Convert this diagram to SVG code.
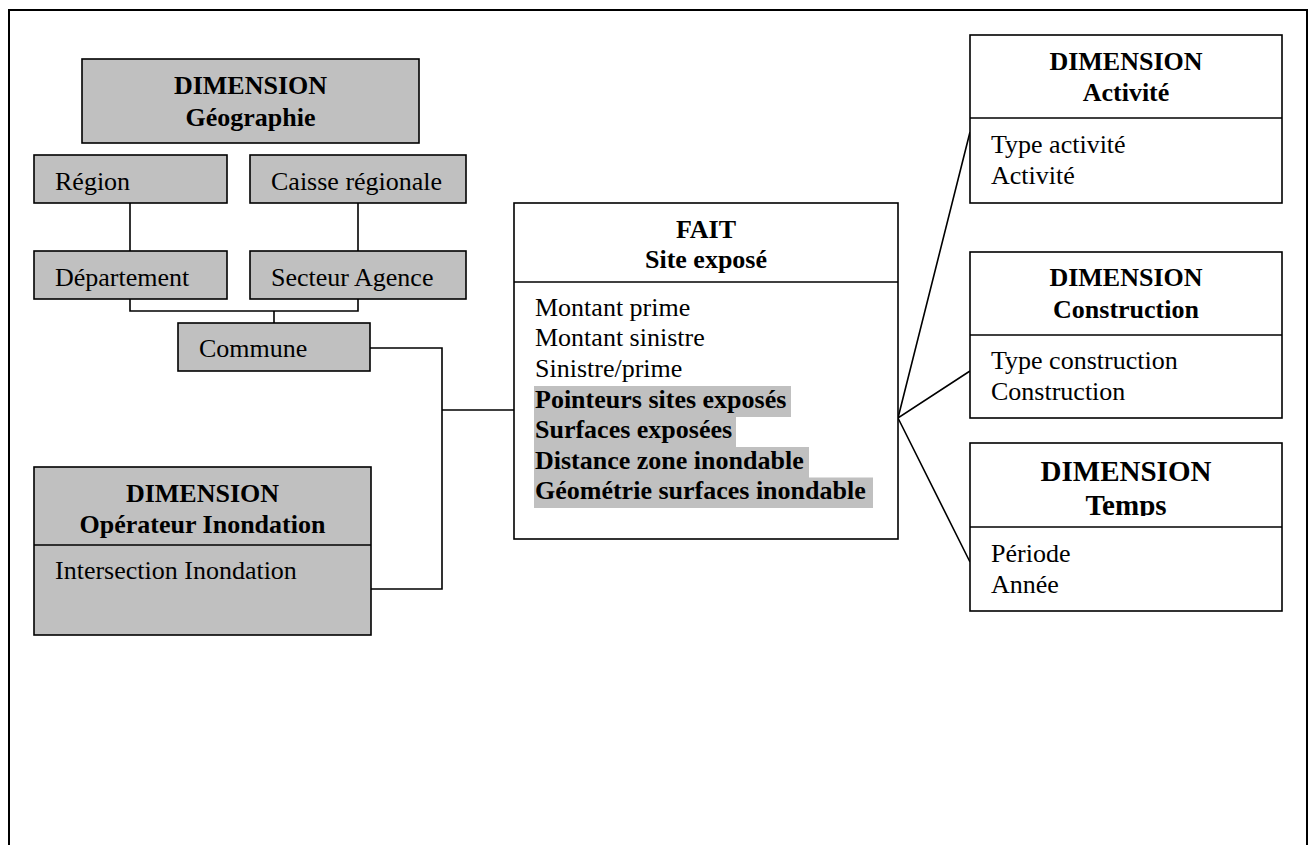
<svg xmlns="http://www.w3.org/2000/svg" width="1312" height="845" viewBox="0 0 1312 845">
<defs>
<style>
.box{stroke:#000;stroke-width:1.6}
.g{fill:#C0C0C0}
.w{fill:#fff}
.t{font-family:"Liberation Serif","Times New Roman",serif;font-size:26px;fill:#000}
.b{font-weight:bold}
.c{text-anchor:middle}
.ln{fill:none;stroke:#000;stroke-width:1.6}
.hl{fill:#C0C0C0}
</style>
<clipPath id="tclip"><rect x="970" y="443" width="312" height="73"/></clipPath>
</defs>
<rect x="0" y="0" width="1312" height="845" fill="#fff"/>
<path d="M9,846 V10 H1307 V846" fill="none" stroke="#000" stroke-width="2"/>

<g id="connectors">
<path class="ln" d="M130,203 V251"/>
<path class="ln" d="M358,203 V251"/>
<path class="ln" d="M130,299 V311 H358 V299"/>
<path class="ln" d="M274,311 V323"/>
<path class="ln" d="M370,348 H442 V589 H371"/>
<path class="ln" d="M442,410 H514"/>
<path class="ln" d="M970,132 L898,418 L970,371 M898,418 L970,562"/>
</g>

<g id="dim-geographie">
<rect class="box g" x="82" y="59" width="337" height="84"/>
<text class="t b c" x="250.5" y="94">DIMENSION</text>
<text class="t b c" x="250.5" y="126">Géographie</text>
</g>
<g id="region">
<rect class="box g" x="34" y="155" width="193" height="48"/>
<text class="t" x="55" y="190">Région</text>
</g>
<g id="caisse">
<rect class="box g" x="250" y="155" width="216" height="48"/>
<text class="t" x="271" y="190">Caisse régionale</text>
</g>
<g id="departement">
<rect class="box g" x="34" y="251" width="193" height="48"/>
<text class="t" x="55" y="286">Département</text>
</g>
<g id="secteur">
<rect class="box g" x="250" y="251" width="216" height="48"/>
<text class="t" x="271" y="286">Secteur Agence</text>
</g>
<g id="commune">
<rect class="box g" x="178" y="323" width="192" height="48"/>
<text class="t" x="199" y="357">Commune</text>
</g>

<g id="dim-operateur">
<rect class="box g" x="34" y="467" width="337" height="168"/>
<path class="ln" d="M34,545 H371"/>
<text class="t b c" x="202.5" y="502">DIMENSION</text>
<text class="t b c" x="202.5" y="533">Opérateur Inondation</text>
<text class="t" x="55" y="579">Intersection Inondation</text>
</g>

<g id="fait">
<rect class="box w" x="514" y="203" width="384" height="336"/>
<path class="ln" d="M514,282 H898"/>
<text class="t b c" x="706" y="238">FAIT</text>
<text class="t b c" x="706" y="268">Site exposé</text>
<rect class="hl" x="534" y="386" width="257" height="31"/>
<rect class="hl" x="534" y="416.5" width="202" height="31"/>
<rect class="hl" x="534" y="447" width="275" height="31"/>
<rect class="hl" x="534" y="477.5" width="339" height="30.5"/>
<text class="t" x="535" y="316">Montant prime</text>
<text class="t" x="535" y="346">Montant sinistre</text>
<text class="t" x="535" y="377">Sinistre/prime</text>
<text class="t b" x="535" y="408">Pointeurs sites exposés</text>
<text class="t b" x="535" y="438">Surfaces exposées</text>
<text class="t b" x="535" y="469">Distance zone inondable</text>
<text class="t b" x="535" y="499">Géométrie surfaces inondable</text>
</g>

<g id="dim-activite">
<rect class="box w" x="970" y="35" width="312" height="168"/>
<path class="ln" d="M970,118 H1282"/>
<text class="t b c" x="1126" y="70">DIMENSION</text>
<text class="t b c" x="1126" y="101">Activité</text>
<text class="t" x="991" y="153">Type activité</text>
<text class="t" x="991" y="184">Activité</text>
</g>

<g id="dim-construction">
<rect class="box w" x="970" y="252" width="312" height="166"/>
<path class="ln" d="M970,335 H1282"/>
<text class="t b c" x="1126" y="286">DIMENSION</text>
<text class="t b c" x="1126" y="318">Construction</text>
<text class="t" x="991" y="369">Type construction</text>
<text class="t" x="991" y="400">Construction</text>
</g>

<g id="dim-temps">
<rect class="box w" x="970" y="443" width="312" height="168"/>
<path class="ln" d="M970,527 H1282"/>
<g clip-path="url(#tclip)">
<text class="t b c" x="1126" y="481" style="font-size:29px">DIMENSION</text>
<text class="t b c" x="1126" y="515" style="font-size:29px">Temps</text>
</g>
<text class="t" x="991" y="562">Période</text>
<text class="t" x="991" y="593">Année</text>
</g>
</svg>
